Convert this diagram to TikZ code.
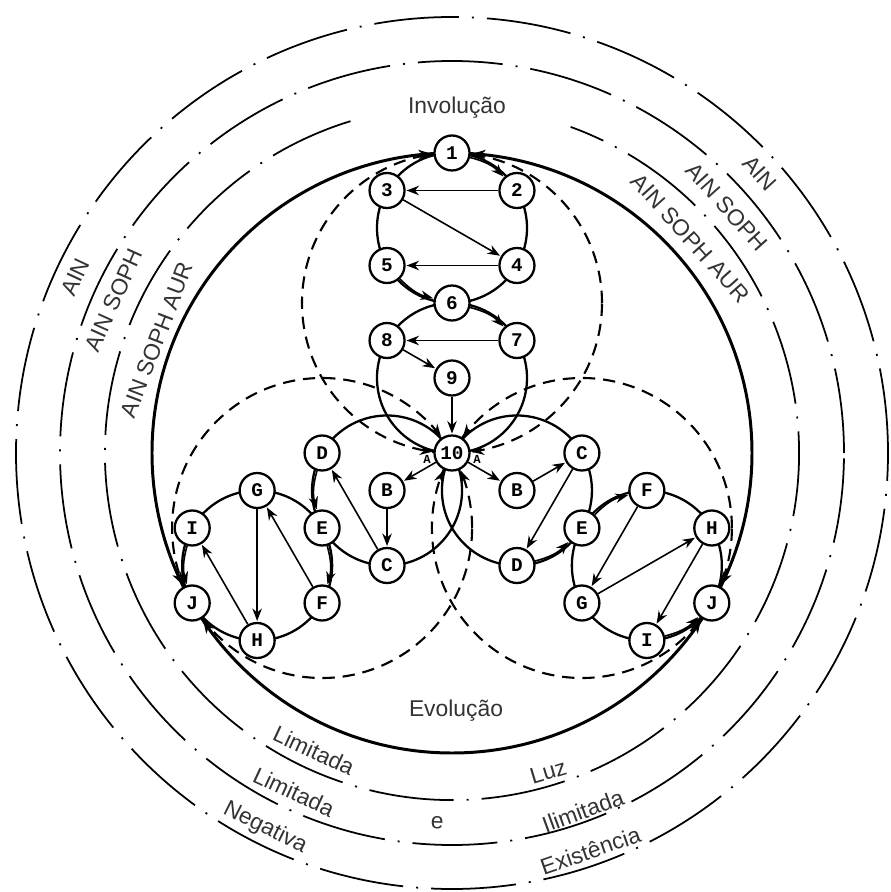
\documentclass[tikz,border=0pt]{standalone}
\usepackage{fontspec}
\setmainfont{Liberation Sans}
\setmonofont{Liberation Mono}
\usetikzlibrary{arrows.meta,calc,decorations.markings}
\newcommand\ringfont{\fontsize{13}{15}\selectfont}
\tikzset{
    >={Stealth[length=2.5mm, width=1.9mm]},
    sefira/.style={draw, circle, fill=white, line width=1.3pt, minimum size=0.7cm, inner sep=0pt, font=\ttfamily\bfseries\fontsize{11}{11}\selectfont},
    tag/.style={inner sep=0pt, font=\ttfamily\bfseries\fontsize{7}{7}\selectfont},
    treeline/.style={line width=1.3pt},
    flash/.style={->, line width=0.9pt, shorten >=0.5pt},
    ringline/.style={line width=1pt, dash pattern=on 1.7cm off 0.26cm on 0.04cm off 0.26cm},
    veil/.style={line width=1.7pt},
    cloud/.style={line width=1.2pt, dash pattern=on 7pt off 4.5pt},
    intotip/.style 2 args={postaction={solid, decorate, decoration={markings,
        mark=at position #1 with {\arrow{>}},
        mark=at position #2 with {\arrowreversed{>}}}}},
    ringlabel/.style={font=\ringfont, text=black!80, inner sep=0pt},
    title/.style={font=\ringfont, text=black!80}
}

\begin{document}
\begin{tikzpicture}
    \useasboundingbox (-9.04,-8.78) rectangle (8.76,9.06);
    \coordinate (O) at (0,0);
    \coordinate (cA) at (90:4.5);
    \coordinate (cB) at (90:1.5);
    \coordinate (cC) at (210:1.5);
    \coordinate (cD) at (210:4.5);
    \coordinate (cE) at (330:1.5);
    \coordinate (cF) at (330:4.5);
    \coordinate (cloudT) at (90:3);
    \coordinate (cloudL) at (210:3);
    \coordinate (cloudR) at (330:3);

    % veils
    \draw[ringline] (O) circle (8.72);
    \draw[ringline] (O) circle (7.84);
    \draw[ringline] (107:6.94) arc[start angle=107, end angle=430, radius=6.94];
    \draw[veil, intotip={0.2389}{0.2611}, intotip={0.5722}{0.5944}, intotip={0.9056}{0.9278}] (O) circle (6);

    % clouds
    \draw[cloud, intotip={0.2292}{0.2708}, intotip={0.7292}{0.7708}] (cloudT) circle (3);
    \draw[cloud, intotip={0.5625}{0.6042}, intotip={0.0625}{0.1042}] (cloudL) circle (3);
    \draw[cloud, intotip={0.8958}{0.9375}, intotip={0.3958}{0.4375}] (cloudR) circle (3);

    % trees
    \foreach \c in {cA,cB,cC,cD,cE,cF}
        \draw[treeline] (\c) circle (1.5);

    \node[sefira] (n1) at ($(cA)+(90:1.5)$) {1};
    \node[sefira] (n2) at ($(cA)+(30:1.5)$) {2};
    \node[sefira] (n3) at ($(cA)+(150:1.5)$) {3};
    \node[sefira] (n4) at ($(cA)+(330:1.5)$) {4};
    \node[sefira] (n5) at ($(cA)+(210:1.5)$) {5};
    \node[sefira] (n6) at ($(cA)+(270:1.5)$) {6};
    \node[sefira] (n7) at ($(cB)+(30:1.5)$) {7};
    \node[sefira] (n8) at ($(cB)+(150:1.5)$) {8};
    \node[sefira] (n9) at (cB) {9};
    \node[sefira] (n10) at (O) {10};

    \node[sefira] (lB) at (cC) {B};
    \node[sefira] (lC) at ($(cC)+(270:1.5)$) {C};
    \node[sefira] (lD) at ($(cC)+(150:1.5)$) {D};
    \node[sefira] (lE) at ($(cC)+(210:1.5)$) {E};
    \node[sefira] (lF) at ($(cD)+(330:1.5)$) {F};
    \node[sefira] (lG) at ($(cD)+(90:1.5)$) {G};
    \node[sefira] (lH) at ($(cD)+(270:1.5)$) {H};
    \node[sefira] (lI) at ($(cD)+(150:1.5)$) {I};
    \node[sefira] (lJ) at ($(cD)+(210:1.5)$) {J};

    \node[sefira] (rB) at (cE) {B};
    \node[sefira] (rC) at ($(cE)+(30:1.5)$) {C};
    \node[sefira] (rD) at ($(cE)+(270:1.5)$) {D};
    \node[sefira] (rE) at ($(cE)+(330:1.5)$) {E};
    \node[sefira] (rF) at ($(cF)+(90:1.5)$) {F};
    \node[sefira] (rG) at ($(cF)+(210:1.5)$) {G};
    \node[sefira] (rH) at ($(cF)+(30:1.5)$) {H};
    \node[sefira] (rI) at ($(cF)+(270:1.5)$) {I};
    \node[sefira] (rJ) at ($(cF)+(330:1.5)$) {J};

    \node[tag] (tagL) at ($(n10)+(-0.5,-0.12)$) {A};
    \node[tag] (tagR) at ($(n10)+(0.5,-0.12)$) {A};

    % lightning flash
    \draw[flash] (n1) to[bend left=16] (n2);
    \draw[flash] (n2) -- (n3);
    \draw[flash] (n3) -- (n4);
    \draw[flash] (n4) -- (n5);
    \draw[flash] (n5) to[bend right=16] (n6);
    \draw[flash] (n6) to[bend left=16] (n7);
    \draw[flash] (n7) -- (n8);
    \draw[flash] (n8) -- (n9);
    \draw[flash] (n9) -- (n10);

    \draw[flash] (n10) -- (lB);
    \draw[flash] (lB) -- (lC);
    \draw[flash] (lC) -- (lD);
    \draw[flash] (lD) to[bend right=16] (lE);
    \draw[flash] (lE) to[bend left=16] (lF);
    \draw[flash] (lF) -- (lG);
    \draw[flash] (lG) -- (lH);
    \draw[flash] (lH) -- (lI);
    \draw[flash] (lI) to[bend right=16] (lJ);

    \draw[flash] (n10) -- (rB);
    \draw[flash] (rB) -- (rC);
    \draw[flash] (rC) -- (rD);
    \draw[flash] (rD) to[bend right=16] (rE);
    \draw[flash] (rE) to[bend left=16] (rF);
    \draw[flash] (rF) -- (rG);
    \draw[flash] (rG) -- (rH);
    \draw[flash] (rH) -- (rI);
    \draw[flash] (rI) to[bend right=16] (rJ);

    % labels
    \node[title] (involucao) at (0.1,6.9) {Involução};
    \node[title] (evolucao) at (0.08,-5.16) {Evolução};

    \node[ringlabel, rotate=-47.7] (ainR) at (42.3:8.32) {AIN};
    \node[ringlabel, rotate=-48.2] (sophR) at (41.8:7.38) {AIN SOPH};
    \node[ringlabel, rotate=-48] (aurR) at (42:6.42) {AIN SOPH AUR};
    \node[ringlabel, rotate=65] (ainL) at (155:8.32) {AIN};
    \node[ringlabel, rotate=65.7] (sophL) at (155.7:7.42) {AIN SOPH};
    \node[ringlabel, rotate=69] (aurL) at (159:6.32) {AIN SOPH AUR};

    \node[ringlabel, rotate=-24.9] (limA) at (245.1:6.56) {Limitada};
    \node[ringlabel, rotate=16.8] (luz) at (286.8:6.66) {Luz};
    \node[ringlabel, rotate=-25] (limB) at (245:7.48) {Limitada};
    \node[ringlabel, rotate=-2.3] (conj) at (267.7:7.40) {e};
    \node[ringlabel, rotate=20.1] (ilim) at (290.1:7.62) {Ilimitada};
    \node[ringlabel, rotate=-26.5] (neg) at (243.5:8.38) {Negativa};
    \node[ringlabel, rotate=19.2] (exist) at (289.2:8.42) {Existência};
\end{tikzpicture}
\end{document}
